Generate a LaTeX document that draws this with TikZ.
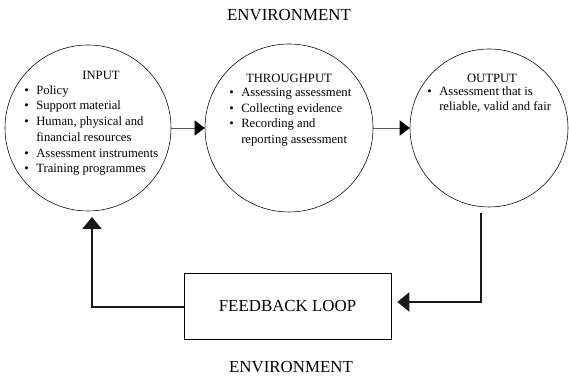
\documentclass[tikz,border=0pt]{standalone}
\usepackage{fontspec}
\setmainfont{Liberation Serif}
\usetikzlibrary{positioning,arrows.meta}

\newcommand{\bul}{\makebox[0.3cm][l]{\textbullet}}
\newcommand{\ind}{\hspace*{0.3cm}}

\begin{document}
\begin{tikzpicture}[
    stage/.style={draw,circle,line width=0.4pt,inner sep=0pt},
    heading/.style={font=\fontsize{9}{11}\selectfont},
    list/.style={anchor=north west,inner sep=0pt,align=left,font=\fontsize{9}{11.2}\selectfont},
    flow/.style={-{Triangle[length=2.5mm,width=3.8mm,black]},line width=0.6pt,draw=black!65},
    loop/.style={-{Triangle[length=3mm,width=4.8mm]},line width=1.2pt,draw=black!90}]
    \useasboundingbox (0,0) rectangle (14.225,9.475);

    \node[font=\fontsize{12}{14}\selectfont] (envtop) at (7.225,9.1) {ENVIRONMENT};
    \node[font=\fontsize{12}{14}\selectfont] (envbot) at (7.275,0.3) {ENVIRONMENT};

    % three stages
    \node[stage,minimum size=4.15cm] (input) at (2.2,6.275) {};
    \node[stage,minimum size=4.2cm] (through) at (7.225,6.275) {};
    \node[stage,minimum size=3.95cm] (output) at (12.225,6.275) {};

    \node[heading] (intitle) at (2.525,7.6) {INPUT};
    \node[list] (inlist) at (0.6,7.35) {\bul Policy\\
        \bul Support material\\
        \bul Human, physical and\\
        \ind financial resources\\
        \bul Assessment instruments\\
        \bul Training programmes};

    \node[heading] (thtitle) at (7.225,7.525) {THROUGHPUT};
    \node[list] (thlist) at (5.725,7.28) {\bul Assessing assessment\\
        \bul Collecting evidence\\
        \bul Recording and\\
        \ind reporting assessment};

    \node[heading] (outtitle) at (12.3,7.525) {OUTPUT};
    \node[list] (outlist) at (10.675,7.32) {\bul Assessment that is\\
        \ind reliable, valid and fair};

    % feedback
    \node[draw,line width=0.5pt,minimum width=5.175cm,minimum height=1.65cm,
        font=\fontsize{12}{14}\selectfont] (fb) at (7.1875,1.825) {FEEDBACK LOOP};

    \coordinate (outdrop) at (12.025,4.15);
    \coordinate (inrise) at (2.3,4.05);

    \draw[flow] (input) -- (through);
    \draw[flow] (through) -- (output);
    \draw[loop,shorten >=0.15cm] (outdrop) |- ([yshift=0.1cm]fb.east);
    \draw[loop] ([yshift=-0.03cm]fb.west) -| (inrise);
\end{tikzpicture}
\end{document}
